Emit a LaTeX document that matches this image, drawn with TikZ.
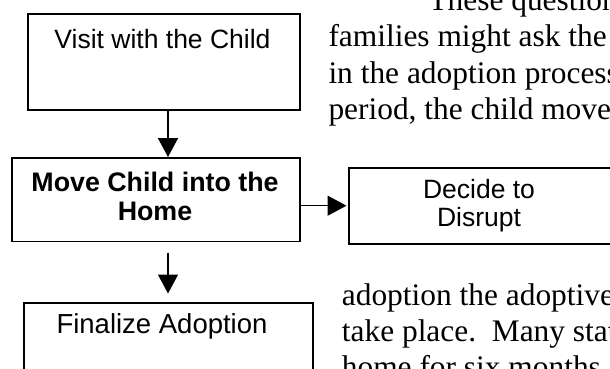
\documentclass[tikz,border=0pt]{standalone}
\usepackage{fontspec}
\setmainfont{Liberation Serif}
\newfontfamily\arialfont{Liberation Sans}
\usetikzlibrary{arrows.meta}
\begin{document}
\begin{tikzpicture}[x=1pt,y=-1pt,
  box/.style={draw, line width=1.8pt, inner sep=0pt, anchor=north west},
  arr/.style={line width=1.6pt, -{Triangle[length=19pt,width=20pt]}},
  sans/.style={font=\arialfont\fontsize{26.5}{28.5}\selectfont, inner sep=0pt, anchor=base},
  sansbold/.style={font=\arialfont\bfseries\fontsize{26.8}{28.5}\selectfont, inner sep=0pt, anchor=base},
  serif/.style={font=\fontsize{31.4}{36.3}\selectfont, inner sep=0pt, anchor=base west}]
\useasboundingbox (0,0) rectangle (610,369);
\fill[white] (0,0) rectangle (610,369);
\clip (0,0) rectangle (610,369);

% boxes
\node[box, minimum width=272pt, minimum height=96pt] (visit) at (27,13) {};
\node[box, minimum width=288.3pt, minimum height=83.5pt] (move) at (10.7,157) {};
\node[box, minimum width=270pt, minimum height=76pt] (decide) at (348,167) {};
\node[box, minimum width=288.4pt, minimum height=90pt] (final) at (23.3,301.7) {};

% box texts
\node[sans] (tvisit) at (162.5,48.3) {Visit with the Child};
\node[sansbold] (tmove1) at (155,191.7) {Move Child into the};
\node[sansbold] (tmove2) at (155,220.2) {Home};
\node[sans] (tdec1) at (479,198) {Decide to};
\node[sans] (tdec2) at (479,226.5) {Disrupt};
\node[sans, font=\arialfont\fontsize{27.5}{30}\selectfont] (tfin) at (162,333) {Finalize Adoption};

% connectors
\coordinate (ax) at (168,0);
\coordinate (hy) at (0,205.7);
\coordinate (a3s) at (168,252.7);
\coordinate (a3e) at (168,293.5);
\draw[arr] (visit.south -| ax) -- (move.north -| ax);
\draw[arr, line width=1.4pt, shorten >=1.5pt] (move.east |- hy) -- (decide.west |- hy);
\draw[arr] (a3s) -- (a3e);

% surrounding body text
\node[serif] (p1) at (428.3,11) {These questions};
\node[serif] (p2) at (328.3,47) {families might ask the};
\node[serif] (p3) at (328.3,83.3) {in the adoption process};
\node[serif] (p4) at (328.3,119.6) {period, the child moves};
\node[serif] (q1) at (341.7,305) {adoption the adoptive};
\node[serif] (q2) at (341.7,341.3) {take place.\ \ Many states};
\node[serif] (q3) at (341.7,377.6) {home for six months};
\end{tikzpicture}
\end{document}
